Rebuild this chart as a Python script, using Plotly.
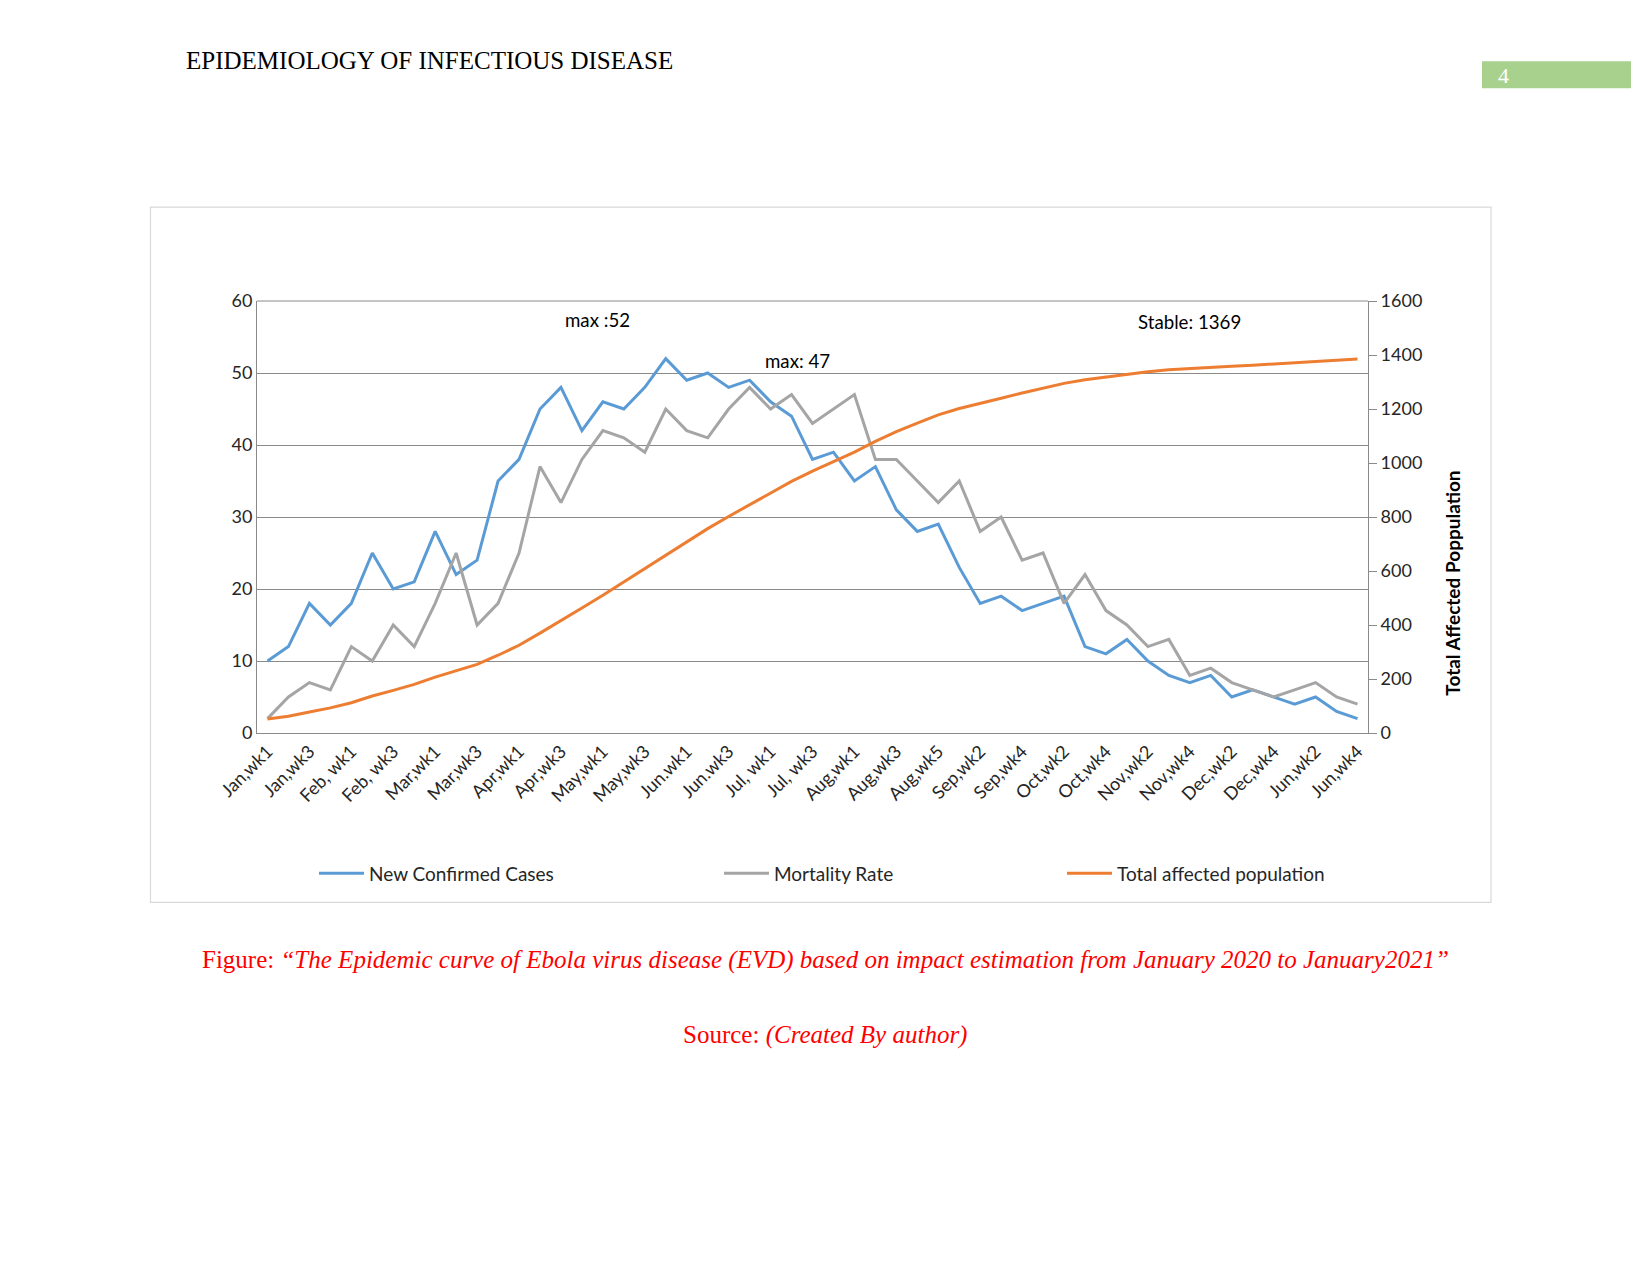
import plotly.graph_objects as go

categories = ["Jan,wk1", "Jan,wk2", "Jan,wk3", "Jan,wk4", "Feb, wk1", "Feb, wk2", "Feb, wk3", "Feb, wk4",
              "Mar,wk1", "Mar,wk2", "Mar,wk3", "Mar,wk4", "Apr,wk1", "Apr,wk2", "Apr,wk3", "Apr,wk4",
              "May,wk1", "May,wk2", "May,wk3", "May,wk4", "Jun.wk1", "Jun.wk2", "Jun.wk3", "Jun.wk4",
              "Jul, wk1", "Jul, wk2", "Jul, wk3", "Jul, wk4", "Aug,wk1", "Aug,wk2", "Aug,wk3", "Aug,wk4",
              "Aug,wk5", "Sep,wk1", "Sep,wk2", "Sep,wk3", "Sep,wk4", "Oct,wk1", "Oct,wk2", "Oct,wk3",
              "Oct,wk4", "Nov,wk1", "Nov,wk2", "Nov,wk3", "Nov,wk4", "Dec,wk1", "Dec,wk2", "Dec,wk3",
              "Dec,wk4", "Jun,wk1", "Jun,wk2", "Jun,wk3", "Jun,wk4"]

new_cases = [10, 12, 18, 15, 18, 25, 20, 21, 28, 22, 24, 35, 38, 45, 48, 42, 46, 45, 48, 52,
             49, 50, 48, 49, 46, 44, 38, 39, 35, 37, 31, 28, 29, 23, 18, 19, 17, 18, 19, 12,
             11, 13, 10, 8, 7, 8, 5, 6, 5, 4, 5, 3, 2]

mortality = [2, 5, 7, 6, 12, 10, 15, 12, 18, 25, 15, 18, 25, 37, 32, 38, 42, 41, 39, 45,
             42, 41, 45, 48, 45, 47, 43, 45, 47, 38, 38, 35, 32, 35, 28, 30, 24, 25, 18, 22,
             17, 15, 12, 13, 8, 9, 7, 6, 5, 6, 7, 5, 4]

total_affected = [52, 62, 78, 93, 112, 137, 158, 180, 207, 230, 254, 288, 325, 370, 418, 463, 510, 560,
                  610, 660, 710, 757, 802, 846, 890, 932, 970, 1004, 1040, 1080, 1116, 1148, 1178,
                  1202, 1222, 1240, 1259, 1277, 1295, 1308, 1318, 1328, 1338, 1345, 1350, 1354,
                  1358, 1362, 1367, 1372, 1377, 1382, 1385]

series_names = ["New Confirmed Cases", "Mortality Rate", "Total affected population"]
colors = ["#5B9BD5", "#A5A5A5", "#ED7D31"]

annotations_text = ["max :52", "max: 47", "Stable: 1369"]
right_title = "Total Affected Poppulation"
header = "EPIDEMIOLOGY OF INFECTIOUS DISEASE"
page_no = "4"
caption = "Figure: <i>“The Epidemic curve of Ebola virus disease (EVD) based on impact estimation from January 2020 to January2021”</i>"
source = "Source: <i>(Created By author)</i>"

# ---- layout geometry (page pixels) ----
OFF = 8
W, H = 1650 - 2 * OFF, 1275 - 2 * OFF
PL, PR, PT, PB = 257, 1368, 301, 733.5
ml = PL - OFF
mr = W - (PR - OFF)
mt = PT - OFF
mb = H - (PB - OFF)
pw = PR - PL
ph = PB - PT


def px(xp):
    return (xp - PL) / pw


def py(yp):
    return 1 - (yp - PT) / ph


FONT = "Lato"
GRID = "#8a8a8a"
fig = go.Figure()
fig.add_trace(go.Scatter(x=categories, y=new_cases, name=series_names[0], mode="lines",
                         line=dict(color=colors[0], width=3), legend="legend", showlegend=True))
fig.add_trace(go.Scatter(x=categories, y=mortality, name=series_names[1], mode="lines",
                         line=dict(color=colors[1], width=3), legend="legend2", showlegend=True))
fig.add_trace(go.Scatter(x=categories, y=total_affected, name=series_names[2], mode="lines",
                         line=dict(color=colors[2], width=3), yaxis="y2", legend="legend3", showlegend=True))

legend_common = dict(orientation="h", xanchor="left", yanchor="middle", bgcolor="rgba(0,0,0,0)",
                     itemwidth=45, font=dict(family=FONT, size=19, color="#262626"))

fig.update_layout(
    width=W, height=H,
    showlegend=True,
    margin=dict(l=ml, r=mr, t=mt, b=mb, pad=0),
    paper_bgcolor="white", plot_bgcolor="white",
    font=dict(family=FONT, size=18, color="#262626"),
    xaxis=dict(type="category", range=[-0.5, len(categories) - 0.5],
               tickmode="array", tickvals=categories[::2], ticktext=categories[::2],
               tickangle=-45, showgrid=False, showline=True, linecolor=GRID, linewidth=1,
               ticks="", tickfont=dict(family=FONT, size=18, color="#262626")),
    yaxis=dict(range=[0, 60], dtick=10, showgrid=True, gridcolor=GRID, gridwidth=1,
               showline=True, linecolor=GRID, ticks="", zeroline=False,
               tickfont=dict(family=FONT, size=18, color="#262626")),
    yaxis2=dict(range=[0, 1600], dtick=200, overlaying="y", side="right", showgrid=False,
                showline=True, linecolor=GRID, ticks="outside", ticklen=8, tickcolor=GRID,
                zeroline=False, tickfont=dict(family=FONT, size=18, color="#262626")),
    legend=dict(x=px(314), y=py(874), **legend_common),
    legend2=dict(x=px(719), y=py(874), **legend_common),
    legend3=dict(x=px(1062), y=py(874), **legend_common),
)

# top frame line of plot area
fig.add_shape(type="line", xref="paper", yref="paper", x0=0, x1=1, y0=1, y1=1,
              line=dict(color=GRID, width=1))
# outer chart border
fig.add_shape(type="rect", xref="paper", yref="paper", x0=px(150.5), x1=px(1491), y0=py(207), y1=py(903),
              line=dict(color="#d9d9d9", width=1.2), layer="below")
# page number box
fig.add_shape(type="rect", xref="paper", yref="paper", x0=px(1482), x1=px(1631), y0=py(61), y1=py(88),
              line=dict(width=0), fillcolor="#A9D18E")

ann = [
    dict(text=annotations_text[0], x=px(597), y=py(320)),
    dict(text=annotations_text[1], x=px(797), y=py(361)),
    dict(text=annotations_text[2], x=px(1189), y=py(322)),
]
for a in ann:
    fig.add_annotation(xref="paper", yref="paper", x=a["x"], y=a["y"], text=a["text"], showarrow=False,
                       xanchor="center", yanchor="middle", font=dict(family=FONT, size=18.7, color="#000000"))

fig.add_annotation(xref="paper", yref="paper", x=px(1453), y=py(584), text="<b>" + right_title + "</b>",
                   textangle=-90, showarrow=False, xanchor="center", yanchor="middle",
                   font=dict(family=FONT, size=19, color="#000000"))

fig.add_annotation(xref="paper", yref="paper", x=px(184), y=py(60), text=header, showarrow=False,
                   xanchor="left", yanchor="middle", font=dict(family="Liberation Serif", size=25, color="#000000"))
fig.add_annotation(xref="paper", yref="paper", x=px(1503), y=py(75), text=page_no, showarrow=False,
                   xanchor="center", yanchor="middle", font=dict(family="Liberation Serif", size=22, color="#ffffff"))
fig.add_annotation(xref="paper", yref="paper", x=px(825), y=py(961), text=caption, showarrow=False,
                   xanchor="center", yanchor="middle", font=dict(family="Liberation Serif", size=25, color="#FF0000"))
fig.add_annotation(xref="paper", yref="paper", x=px(825), y=py(1036), text=source, showarrow=False,
                   xanchor="center", yanchor="middle", font=dict(family="Liberation Serif", size=25, color="#FF0000"))

fig.write_html("out.html")
